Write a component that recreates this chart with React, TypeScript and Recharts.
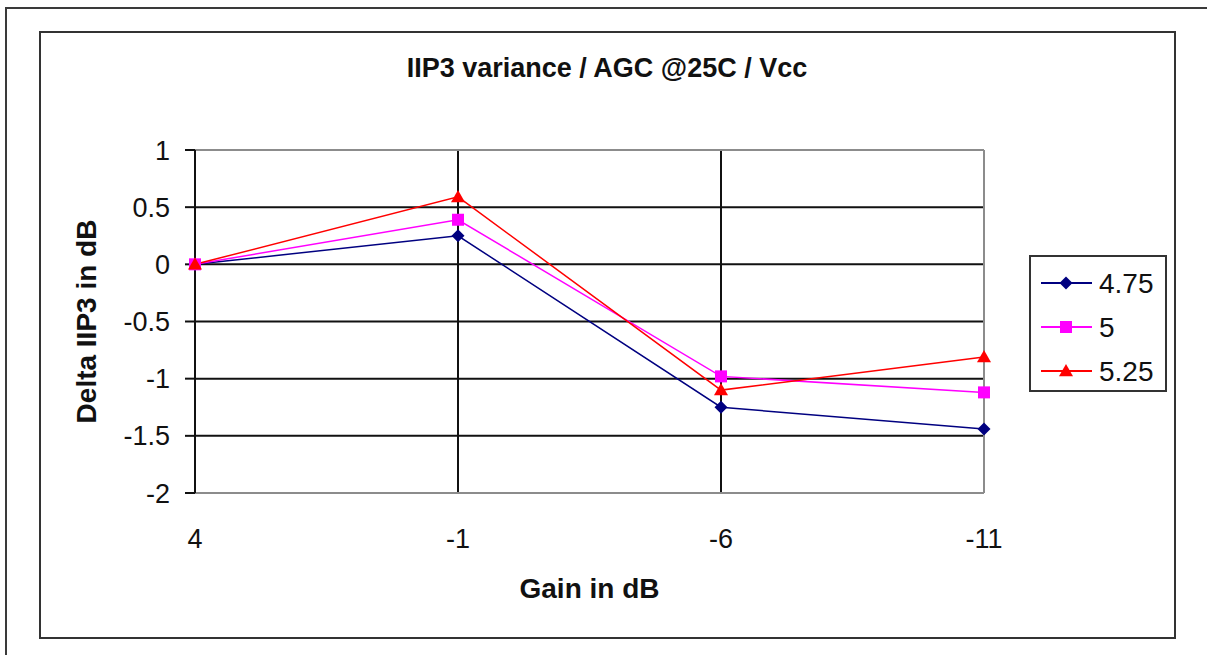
import React from "react";
import {
  CartesianGrid,
  Label,
  Legend,
  Line,
  LineChart,
  ReferenceLine,
  XAxis,
  YAxis,
} from "recharts";

const GAINS = ["4", "-1", "-6", "-11"];
const VCC_475 = [0, 0.25, -1.25, -1.44];
const VCC_5 = [0, 0.39, -0.98, -1.12];
const VCC_525 = [0, 0.59, -1.1, -0.81];
const Y_TICKS = [1, 0.5, 0, -0.5, -1, -1.5, -2];

const FONT = "'Liberation Sans', Arial, sans-serif";

const data = GAINS.map((gain, i) => ({
  gain,
  v475: VCC_475[i],
  v5: VCC_5[i],
  v525: VCC_525[i],
}));

function Diamond({ cx, cy, fill }: any) {
  const r = 6.5;
  return (
    <path
      d={`M${cx},${cy - r}L${cx + r},${cy}L${cx},${cy + r}L${cx - r},${cy}Z`}
      fill={fill}
    />
  );
}

function Square({ cx, cy, fill }: any) {
  const r = 6;
  return <rect x={cx - r} y={cy - r} width={r * 2} height={r * 2} fill={fill} />;
}

function Triangle({ cx, cy, fill }: any) {
  const r = 7;
  return (
    <path
      d={`M${cx},${cy - r}L${cx + r},${cy + r * 0.75}L${cx - r},${cy + r * 0.75}Z`}
      fill={fill}
    />
  );
}

const SERIES = [
  { key: "v475", name: "4.75", color: "#000080", Marker: Diamond },
  { key: "v5", name: "5", color: "#FF00FF", Marker: Square },
  { key: "v525", name: "5.25", color: "#FF0000", Marker: Triangle },
];

function LegendBox() {
  return (
    <div
      style={{
        width: 138,
        height: 137,
        boxSizing: "border-box",
        border: "2px solid #333",
        background: "#fff",
      }}
    >
      <svg width={134} height={133}>
        {SERIES.map((s, i) => {
          const y = 26 + i * 44;
          return (
            <g key={s.key}>
              <line x1={10} x2={61} y1={y} y2={y} stroke={s.color} strokeWidth={2} />
              <s.Marker cx={35} cy={y} fill={s.color} />
              <text
                x={68}
                y={y}
                dy="0.36em"
                fontSize={28}
                fontFamily={FONT}
                fill="#111"
              >
                {s.name}
              </text>
            </g>
          );
        })}
      </svg>
    </div>
  );
}

function YTitle({ viewBox }: any) {
  const cx = 86;
  const cy = viewBox.y + viewBox.height / 2;
  return (
    <text
      x={cx}
      y={cy}
      dy="0.36em"
      transform={`rotate(-90 ${cx} ${cy})`}
      textAnchor="middle"
      fontSize={28}
      fontWeight="bold"
      fontFamily={FONT}
      fill="#111"
    >
      Delta IIP3 in dB
    </text>
  );
}

export default function App() {
  return (
    <div
      style={{
        position: "absolute",
        left: 0,
        top: 0,
        width: 1207,
        height: 655,
        overflow: "hidden",
        background: "#fff",
        fontFamily: FONT,
      }}
    >
      {/* page frame, cut off at right and bottom */}
      <div
        style={{
          position: "absolute",
          left: 5,
          top: 7,
          width: 1400,
          height: 900,
          border: "2px solid #3a3a3a",
        }}
      />
      {/* chart frame */}
      <div
        style={{
          position: "absolute",
          left: 39,
          top: 31,
          width: 1137,
          height: 608,
          boxSizing: "border-box",
          border: "2px solid #333",
        }}
      />
      <div
        style={{
          position: "absolute",
          left: 40,
          width: 1134,
          top: 55,
          lineHeight: "27px",
          fontSize: 27,
          fontWeight: "bold",
          textAlign: "center",
          color: "#111",
        }}
      >
        IIP3 variance / AGC @25C / Vcc
      </div>
      <div style={{ position: "absolute", left: 0, top: 0 }}>
        <LineChart
          width={1207}
          height={655}
          data={data}
          margin={{ top: 150, right: 223, bottom: 102, left: 0 }}
        >
          <CartesianGrid stroke="#111" strokeWidth={2} />
          <ReferenceLine y={1} stroke="#8c8c8c" strokeWidth={2} />
          <ReferenceLine y={-2} stroke="#8c8c8c" strokeWidth={2} />
          <ReferenceLine x="-11" stroke="#8c8c8c" strokeWidth={2} />
          <XAxis
            dataKey="gain"
            height={60}
            axisLine={false}
            tickLine={false}
            tickSize={0}
            tickMargin={36}
            tick={{ fontSize: 27, fill: "#111", fontFamily: FONT }}
          >
            <Label
              value="Gain in dB"
              position="bottom"
              offset={25}
              style={{ fontSize: 28, fontWeight: "bold", fill: "#111", fontFamily: FONT }}
            />
          </XAxis>
          <YAxis
            width={195}
            domain={[-2, 1]}
            ticks={Y_TICKS}
            interval={0}
            tickSize={10}
            tickMargin={15}
            axisLine={{ stroke: "#111", strokeWidth: 2 }}
            tickLine={{ stroke: "#111", strokeWidth: 2 }}
            tick={{ fontSize: 27, fill: "#111", fontFamily: FONT }}
          >
            <Label content={YTitle} />
          </YAxis>
          <Legend
            layout="vertical"
            align="center"
            verticalAlign="middle"
            content={() => <LegendBox />}
            wrapperStyle={{ position: "absolute", left: 1029, top: 255, width: 138 }}
          />
          {SERIES.map((s) => (
            <Line
              key={s.key}
              type="linear"
              dataKey={s.key}
              name={s.name}
              stroke={s.color}
              strokeWidth={1.5}
              isAnimationActive={false}
              dot={(p: any) => (
                <s.Marker key={`${s.key}-${p.index}`} cx={p.cx} cy={p.cy} fill={s.color} />
              )}
              activeDot={false}
            />
          ))}
        </LineChart>
      </div>
    </div>
  );
}
